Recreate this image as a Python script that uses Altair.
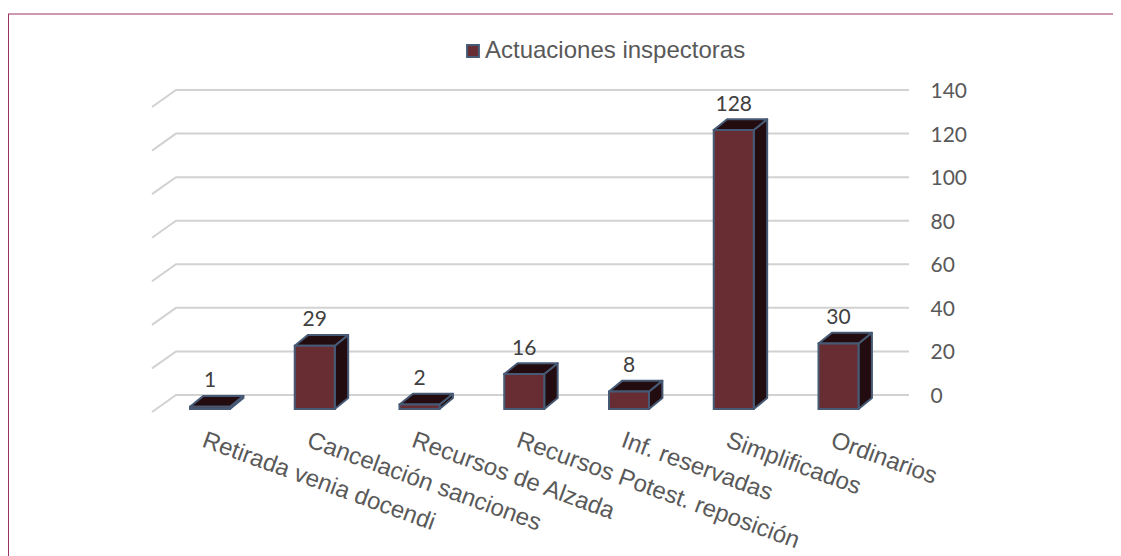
import json
import altair as alt
import pandas as pd

categories = ["Retirada venia docendi", "Cancelación sanciones", "Recursos de Alzada",
              "Recursos Potest. reposición", "Inf. reservadas", "Simplificados", "Ordinarios"]
values = [1, 29, 2, 16, 8, 128, 30]
series_name = "Actuaciones inspectoras"
y_ticks = [0, 20, 40, 60, 80, 100, 120, 140]

# projection of the pseudo-3D box, in data units
HALF = 0.191        # half bar width (category units)
BAR_DX = 0.128      # bar depth along x
BAR_DY = 5.0        # bar depth along y
FLOOR = -6.4        # front edge of the bars' base
GRID_DX = 0.229     # depth of wall/floor along x
GRID_DY = 7.8

front, side, top, grid = [], [], [], []
for i, v in enumerate(values):
    t = FLOOR + v
    x0, x1 = i - HALF, i + HALF
    front.append(dict(x0=x0, x1=x1, lo=FLOOR, hi=t, serie=series_name))
    for px, lo, hi in [(x1, FLOOR, t), (x1 + BAR_DX, FLOOR + BAR_DY, t + BAR_DY)]:
        side.append(dict(k=i, x=px, lo=lo, hi=hi))
    for px, lo, hi in [(x0, t, t), (x0 + BAR_DX, t, t + BAR_DY), (x1, t, t + BAR_DY),
                       (x1 + BAR_DX, t + BAR_DY, t + BAR_DY)]:
        top.append(dict(k=i, x=px, lo=lo, hi=hi))

x_start, x_end = -0.5537, 6.673
for v in y_ticks:
    grid += [dict(k=v, o=0, x=x_start, y=v - GRID_DY),
             dict(k=v, o=1, x=x_start + GRID_DX, y=v),
             dict(k=v, o=2, x=x_end, y=v)]

labels = [dict(x=i, y=FLOOR + v + BAR_DY, text=str(v)) for i, v in enumerate(values)]

xs = alt.Scale(domain=[x_start, x_end], nice=False, zero=False)
ys = alt.Scale(domain=[-11.47, 140], nice=False, zero=False)

label_expr = json.dumps(categories) + "[datum.value]"

x_axis = alt.Axis(
    values=list(range(len(categories))), labelExpr=label_expr, labelAngle=20, title=None,
    labelAlign="left", labelBaseline="top", labelFont="Liberation Sans", labelFontSize=24,
    labelColor="#595959", labelOverlap=False, labelBound=False, labelFlush=False,
    labelLimit=500, labelPadding=8, labelOffset=-3, domain=False, ticks=False, grid=False)
y_axis = alt.Axis(
    orient="right", values=y_ticks, labelFont="Lato", labelFontSize=21, labelColor="#595959", title=None,
    labelPadding=21, labelOffset=1.5, domain=False, ticks=False, grid=False, labelBound=False, labelFlush=False)


def X(f):
    return alt.X(f, scale=xs, axis=x_axis, title=None)


def Y(f):
    return alt.Y(f, scale=ys, axis=y_axis, title=None)


grid_layer = alt.Chart(pd.DataFrame(grid)).mark_line(color="#d2d2d2", strokeWidth=2).encode(
    x=X("x:Q"), y=Y("y:Q"), detail="k:N", order="o:Q")

DARK = "#230c0f"
EDGE = "#465a75"
side_layer = alt.Chart(pd.DataFrame(side)).mark_area(
    color=DARK, stroke=EDGE, strokeWidth=2, strokeJoin="round", opacity=1).encode(
    x=X("x:Q"), y=Y("lo:Q"), y2="hi:Q", detail="k:N")
top_layer = alt.Chart(pd.DataFrame(top)).mark_area(
    color=DARK, stroke=EDGE, strokeWidth=2, strokeJoin="round", opacity=1).encode(
    x=X("x:Q"), y=Y("lo:Q"), y2="hi:Q", detail="k:N")
front_layer = alt.Chart(pd.DataFrame(front)).mark_rect(stroke=EDGE, strokeWidth=2).encode(
    x=X("x0:Q"), x2="x1:Q", y=Y("lo:Q"), y2="hi:Q",
    color=alt.Color("serie:N", scale=alt.Scale(range=["#672d33"]), legend=alt.Legend(
        orient="none", legendX=309, legendY=-51, title=None, symbolType="square", symbolSize=140,
        symbolStrokeColor=EDGE, symbolStrokeWidth=2, symbolOpacity=1, labelFont="Liberation Sans",
        labelFontSize=24, labelColor="#595959", labelOffset=0, labelLimit=400)))
text_layer = alt.Chart(pd.DataFrame(labels)).mark_text(
    font="Lato", fontSize=21, color="#404040", baseline="bottom", dy=-4.5).encode(
    x=X("x:Q"), y=Y("y:Q"), text="text:N")

top_rule = alt.Chart(pd.DataFrame({"a": [0]})).mark_rule(color="#993366", strokeWidth=1.2).encode(
    x=alt.value(-144), x2=alt.value(961), y=alt.value(-76))
left_rule = alt.Chart(pd.DataFrame({"a": [0]})).mark_rule(color="#993366", strokeWidth=1).encode(
    x=alt.value(-143.5), y=alt.value(-76), y2=alt.value(466))

chart = alt.layer(grid_layer, side_layer, top_layer, front_layer, text_layer, top_rule, left_rule).properties(
    width=757, height=330,
    autosize=alt.AutoSizeParams(type="none"),
    padding={"left": 144, "top": 82, "right": 204, "bottom": 136},
    background="white",
).configure_view(stroke=None)

chart.save("out.html", embed_options={"renderer": "svg", "actions": False})
